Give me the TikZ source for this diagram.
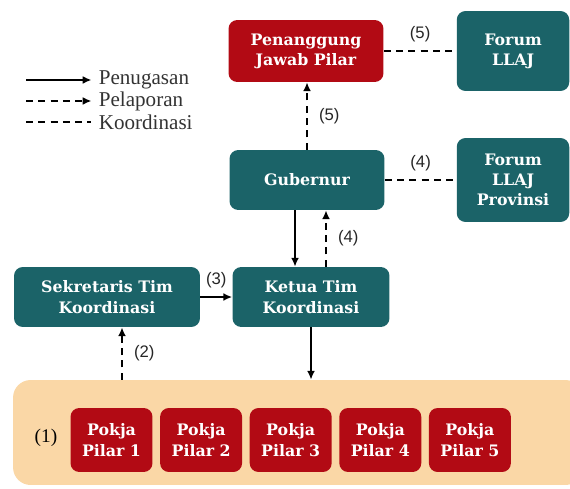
\documentclass[tikz,border=0pt]{standalone}
\usepackage{fontspec}
\setmainfont{Liberation Serif}
\newfontfamily\kotakfont{DejaVu Serif}
\newfontfamily\nomorfont{Liberation Sans}
\usetikzlibrary{arrows.meta,positioning}
\definecolor{pilarteal}{RGB}{27,99,104}
\definecolor{pilarred}{RGB}{178,10,20}
\definecolor{pokjabg}{RGB}{250,215,166}

\tikzset{
  kotak/.style={rounded corners=5pt, fill=pilarteal, text=white, align=center,
    inner sep=2pt, font=\kotakfont\bfseries\fontsize{9}{11.5}\selectfont},
  merah/.style={kotak, fill=pilarred},
  pokja/.style={merah, minimum width=1.64cm, minimum height=1.28cm},
  tugas/.style={line width=1.1pt, -{Latex[length=5pt,width=4.5pt]}},
  lapor/.style={line width=1.1pt, dash pattern=on 4pt off 3pt, -{Latex[length=5pt,width=4.5pt]}},
  koord/.style={line width=1.1pt, dash pattern=on 4pt off 3pt},
  nomor/.style={font=\nomorfont\fontsize{9.5}{11}\selectfont, text=black!85},
  legenda/.style={font=\fontsize{12}{14}\selectfont, text=black!80, inner sep=2pt},
}

\begin{document}
\begin{tikzpicture}[x=0.02cm,y=-0.02cm]
\useasboundingbox (0,0) rectangle (570,489);

% latar pokja
\node[fill=pokjabg, rounded corners=10pt, minimum width=11.4cm, minimum height=2.1cm] (latar) at (298,432.5) {};
\node[font=\fontsize{11}{13}\selectfont] (satu) at (46,438) {(1)};
\foreach \i in {1,...,5} {
  \node[pokja] (p\i) at ({111.5+89.6*(\i-1)},440) {Pokja\\Pilar \i};
}

% kotak utama
\node[merah, minimum width=3.1cm, minimum height=1.24cm] (pj) at (306,51) {Penanggung\\Jawab Pilar};
\node[kotak, minimum width=2.25cm, minimum height=1.6cm] (forum) at (513,51) {Forum\\LLAJ};
\node[kotak, minimum width=3.1cm, minimum height=1.2cm] (gub) at (307,180) {Gubernur};
\node[kotak, minimum width=2.25cm, minimum height=1.68cm] (prov) at (513,180) {Forum\\LLAJ\\Provinsi};
\node[kotak, minimum width=3.72cm, minimum height=1.2cm] (sek) at (107,297) {Sekretaris Tim\\Koordinasi};
\node[kotak, minimum width=3.14cm, minimum height=1.2cm] (ketua) at (311,297) {Ketua Tim\\Koordinasi};

% legenda
\node[legenda, anchor=west] (lg1) at (95,80) {Penugasan};
\node[legenda, anchor=west] (lg2) at (95,101) {Pelaporan};
\node[legenda, anchor=west] (lg3) at (95,122) {Koordinasi};
\coordinate (la1) at (26,80);
\coordinate (la2) at (26,101);
\coordinate (la3) at (26,122);
\draw[tugas] (la1) -- ([xshift=-2pt]lg1.west);
\draw[lapor] (la2) -- ([xshift=-2pt]lg2.west);
\draw[koord] (la3) -- ([xshift=-2pt]lg3.west);

% hubungan
\draw[lapor] (gub.north) -- (gub.north |- pj.south) node[nomor, midway, right=3pt] {(5)};
\draw[koord] (pj.east) -- (forum.west) node[nomor, midway, above=1pt] {(5)};
\draw[koord] (gub.east) -- (prov.west) node[nomor, midway, above=1pt] {(4)};
\draw[tugas] ([xshift=-0.24cm]gub.south) -- ([xshift=-0.24cm]gub.south |- ketua.north);
\draw[lapor] ([xshift=0.3cm]ketua.north) -- ([xshift=0.3cm]ketua.north |- gub.south) node[nomor, midway, right=3pt] {(4)};
\draw[tugas] (sek.east) -- (ketua.west) node[nomor, midway, above=1pt] {(3)};
\draw[lapor] ([xshift=0.3cm]sek.south |- latar.north) -- ([xshift=0.3cm]sek.south) node[nomor, midway, right=3pt] {(2)};
\draw[tugas] (ketua.south) -- (ketua.south |- latar.north);
\end{tikzpicture}
\end{document}
